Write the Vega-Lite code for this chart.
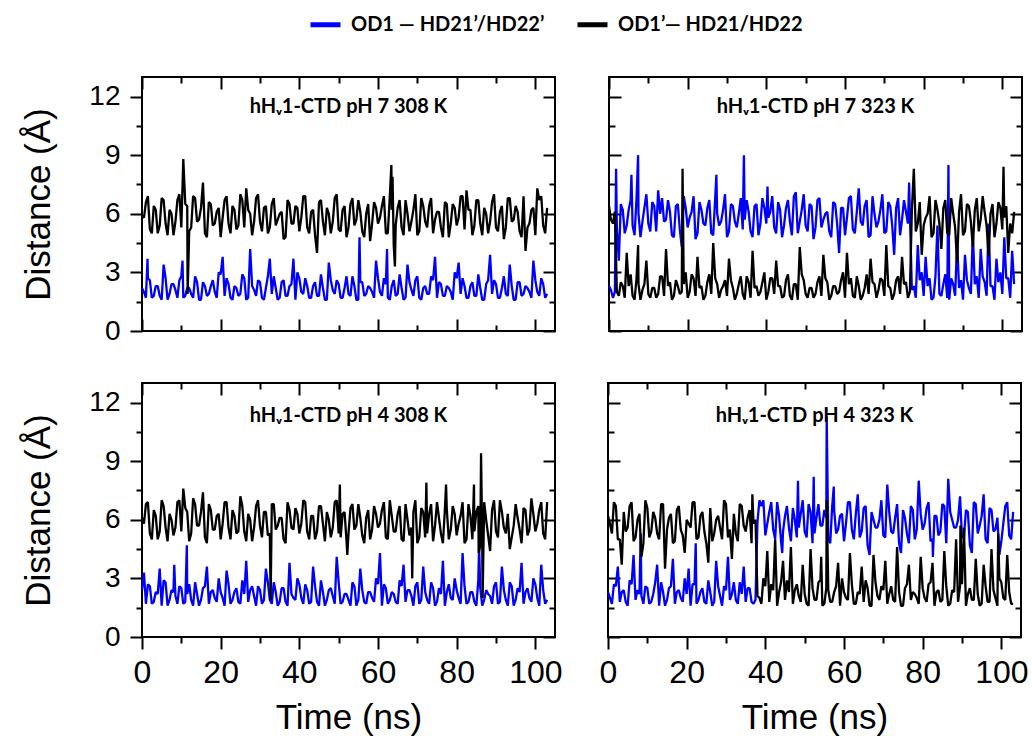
{
"$schema": "https://vega.github.io/schema/vega-lite/v6.json",
"background": "white",
"padding": {"left": 20, "top": 7, "right": 8, "bottom": 5},
"datasets": {
"a1k": [{"t":0,"v":5.9},{"t":0.5,"v":5.8},{"t":1,"v":6.6},{"t":1.5,"v":6.9},{"t":2,"v":5.2},{"t":2.5,"v":5.0},{"t":3,"v":6.4},{"t":3.5,"v":6.2},{"t":4,"v":5.0},{"t":4.5,"v":5.4},{"t":5,"v":6.8},{"t":5.5,"v":6.7},{"t":6,"v":5.5},{"t":6.5,"v":4.9},{"t":7,"v":6.2},{"t":7.5,"v":6.0},{"t":8,"v":4.9},{"t":8.5,"v":5.6},{"t":9,"v":6.7},{"t":9.5,"v":7.0},{"t":10,"v":5.3},{"t":10.5,"v":8.8},{"t":11,"v":6.5},{"t":11.5,"v":6.4},{"t":11.6,"v":1.9},{"t":12,"v":5.1},{"t":12.5,"v":5.3},{"t":13,"v":6.9},{"t":13.5,"v":6.8},{"t":14,"v":5.6},{"t":14.5,"v":5.7},{"t":15,"v":6.3},{"t":15.5,"v":7.6},{"t":16,"v":5.0},{"t":16.5,"v":4.8},{"t":17,"v":6.6},{"t":17.5,"v":6.5},{"t":18,"v":5.4},{"t":18.5,"v":5.5},{"t":19,"v":6.1},{"t":19.5,"v":6.3},{"t":20,"v":4.8},{"t":20.5,"v":5.8},{"t":21,"v":6.7},{"t":21.5,"v":6.9},{"t":22,"v":5.5},{"t":22.5,"v":5.0},{"t":23,"v":6.4},{"t":23.5,"v":6.2},{"t":24,"v":5.2},{"t":24.5,"v":5.4},{"t":25,"v":7.0},{"t":25.5,"v":6.7},{"t":26,"v":5.3},{"t":26.5,"v":7.3},{"t":27,"v":6.2},{"t":27.5,"v":6.0},{"t":28,"v":4.9},{"t":28.5,"v":5.6},{"t":29,"v":6.8},{"t":29.5,"v":7.0},{"t":30,"v":5.6},{"t":30.5,"v":5.1},{"t":31,"v":6.3},{"t":31.5,"v":6.4},{"t":32,"v":5.0},{"t":32.5,"v":5.3},{"t":33,"v":6.5},{"t":33.5,"v":6.8},{"t":34,"v":5.4},{"t":34.5,"v":5.7},{"t":35,"v":6.0},{"t":35.5,"v":6.1},{"t":36,"v":4.7},{"t":36.5,"v":4.8},{"t":37,"v":6.7},{"t":37.5,"v":6.5},{"t":38,"v":5.5},{"t":38.5,"v":5.5},{"t":39,"v":6.4},{"t":39.5,"v":6.3},{"t":40,"v":5.1},{"t":40.5,"v":5.8},{"t":41,"v":6.9},{"t":41.5,"v":6.9},{"t":42,"v":5.3},{"t":42.5,"v":5.0},{"t":43,"v":6.1},{"t":43.5,"v":6.2},{"t":44,"v":4.9},{"t":44.5,"v":4.0},{"t":45,"v":6.6},{"t":45.5,"v":6.7},{"t":46,"v":5.6},{"t":46.5,"v":4.9},{"t":47,"v":6.3},{"t":47.5,"v":6.0},{"t":48,"v":5.0},{"t":48.5,"v":5.6},{"t":49,"v":6.8},{"t":49.5,"v":7.0},{"t":50,"v":5.2},{"t":50.5,"v":5.1},{"t":51,"v":6.2},{"t":51.5,"v":6.4},{"t":52,"v":4.8},{"t":52.5,"v":5.3},{"t":53,"v":6.5},{"t":53.5,"v":6.8},{"t":54,"v":5.4},{"t":54.5,"v":5.7},{"t":55,"v":6.7},{"t":55.5,"v":6.1},{"t":56,"v":5.1},{"t":56.5,"v":4.8},{"t":57,"v":6.0},{"t":57.5,"v":6.5},{"t":58,"v":4.6},{"t":58.5,"v":5.5},{"t":59,"v":6.6},{"t":59.5,"v":6.3},{"t":60,"v":5.5},{"t":60.5,"v":5.8},{"t":61,"v":6.4},{"t":61.5,"v":6.9},{"t":62,"v":5.0},{"t":62.5,"v":5.0},{"t":63,"v":6.9},{"t":63.4,"v":8.5},{"t":63.5,"v":6.2},{"t":63.7,"v":7.9},{"t":64,"v":4.4},{"t":64.3,"v":3.3},{"t":64.5,"v":5.4},{"t":65,"v":6.3},{"t":65.5,"v":6.7},{"t":66,"v":5.3},{"t":66.5,"v":4.9},{"t":67,"v":6.7},{"t":67.5,"v":6.0},{"t":68,"v":5.1},{"t":68.5,"v":5.6},{"t":69,"v":6.2},{"t":69.5,"v":7.0},{"t":70,"v":4.9},{"t":70.5,"v":5.1},{"t":71,"v":6.8},{"t":71.5,"v":6.4},{"t":72,"v":5.6},{"t":72.5,"v":5.3},{"t":73,"v":6.4},{"t":73.5,"v":6.8},{"t":74,"v":5.0},{"t":74.5,"v":5.7},{"t":75,"v":6.1},{"t":75.5,"v":6.1},{"t":76,"v":5.3},{"t":76.5,"v":4.8},{"t":77,"v":6.6},{"t":77.5,"v":6.5},{"t":78,"v":4.8},{"t":78.5,"v":5.5},{"t":79,"v":6.5},{"t":79.5,"v":6.3},{"t":80,"v":5.4},{"t":80.5,"v":5.8},{"t":81,"v":6.9},{"t":81.5,"v":6.9},{"t":82,"v":5.2},{"t":82.5,"v":7.2},{"t":83,"v":6.2},{"t":83.5,"v":6.2},{"t":84,"v":4.9},{"t":84.5,"v":5.4},{"t":85,"v":6.7},{"t":85.5,"v":6.7},{"t":86,"v":5.5},{"t":86.5,"v":4.9},{"t":87,"v":6.3},{"t":87.5,"v":6.0},{"t":88,"v":5.0},{"t":88.5,"v":5.6},{"t":89,"v":6.6},{"t":89.5,"v":7.0},{"t":90,"v":5.3},{"t":90.5,"v":5.1},{"t":91,"v":6.1},{"t":91.5,"v":6.4},{"t":92,"v":4.7},{"t":92.5,"v":5.3},{"t":93,"v":6.8},{"t":93.5,"v":6.8},{"t":94,"v":5.6},{"t":94.5,"v":5.7},{"t":95,"v":6.4},{"t":95.5,"v":6.1},{"t":96,"v":5.1},{"t":96.5,"v":4.8},{"t":97,"v":6.9},{"t":97.5,"v":4.1},{"t":98,"v":5.3},{"t":98.5,"v":5.5},{"t":99,"v":6.2},{"t":99.5,"v":6.3},{"t":100,"v":4.9},{"t":100.5,"v":7.3},{"t":101,"v":6.7},{"t":101.5,"v":6.9},{"t":102,"v":5.4},{"t":102.5,"v":5.0},{"t":103,"v":6.3}],
"a1b": [{"t":0,"v":2.2},{"t":0.5,"v":2.0},{"t":1,"v":1.7},{"t":1.4,"v":3.7},{"t":1.5,"v":2.7},{"t":2,"v":2.6},{"t":2.5,"v":1.7},{"t":3,"v":1.8},{"t":3.5,"v":2.3},{"t":4,"v":2.3},{"t":4.5,"v":1.8},{"t":5,"v":1.6},{"t":5.5,"v":3.4},{"t":6,"v":2.7},{"t":6.5,"v":1.6},{"t":7,"v":1.9},{"t":7.5,"v":2.4},{"t":8,"v":2.4},{"t":8.5,"v":2.1},{"t":9,"v":1.7},{"t":9.5,"v":2.6},{"t":10,"v":2.8},{"t":10.3,"v":3.6},{"t":10.5,"v":1.7},{"t":11,"v":1.8},{"t":11.5,"v":2.2},{"t":12,"v":2.2},{"t":12.5,"v":1.9},{"t":13,"v":1.7},{"t":13.5,"v":2.8},{"t":14,"v":2.5},{"t":14.5,"v":1.6},{"t":15,"v":1.6},{"t":15.5,"v":2.5},{"t":16,"v":2.3},{"t":16.5,"v":1.8},{"t":17,"v":1.9},{"t":17.5,"v":2.3},{"t":18,"v":2.6},{"t":18.5,"v":2.0},{"t":19,"v":1.7},{"t":19.5,"v":3.0},{"t":20,"v":2.9},{"t":20.5,"v":3.8},{"t":21,"v":1.8},{"t":21.5,"v":2.7},{"t":22,"v":2.4},{"t":22.5,"v":1.7},{"t":23,"v":1.6},{"t":23.5,"v":2.3},{"t":24,"v":2.2},{"t":24.5,"v":1.8},{"t":25,"v":1.9},{"t":25.5,"v":2.9},{"t":26,"v":2.7},{"t":26.5,"v":1.6},{"t":27,"v":1.7},{"t":27.5,"v":4.2},{"t":28,"v":2.3},{"t":28.5,"v":2.1},{"t":29,"v":1.8},{"t":29.5,"v":2.6},{"t":30,"v":2.5},{"t":30.5,"v":1.7},{"t":31,"v":1.6},{"t":31.5,"v":2.2},{"t":32,"v":2.8},{"t":32.5,"v":3.7},{"t":33,"v":1.9},{"t":33.5,"v":2.8},{"t":34,"v":2.2},{"t":34.5,"v":1.6},{"t":35,"v":1.7},{"t":35.5,"v":2.5},{"t":36,"v":2.6},{"t":36.5,"v":1.8},{"t":37,"v":1.8},{"t":37.5,"v":2.3},{"t":38,"v":2.4},{"t":38.5,"v":3.7},{"t":39,"v":1.6},{"t":39.5,"v":3.0},{"t":40,"v":2.7},{"t":40.5,"v":2.0},{"t":41,"v":1.9},{"t":41.5,"v":2.7},{"t":42,"v":2.3},{"t":42.5,"v":1.7},{"t":43,"v":1.7},{"t":43.5,"v":2.3},{"t":44,"v":2.5},{"t":44.5,"v":1.8},{"t":45,"v":1.8},{"t":45.5,"v":2.9},{"t":46,"v":2.2},{"t":46.5,"v":1.6},{"t":47,"v":1.6},{"t":47.5,"v":3.5},{"t":48,"v":2.6},{"t":48.5,"v":2.1},{"t":49,"v":1.9},{"t":49.5,"v":2.6},{"t":50,"v":2.4},{"t":50.5,"v":1.7},{"t":51,"v":1.7},{"t":51.5,"v":2.2},{"t":52,"v":2.8},{"t":52.5,"v":1.9},{"t":53,"v":1.8},{"t":53.5,"v":2.8},{"t":54,"v":2.3},{"t":54.5,"v":1.6},{"t":55,"v":1.6},{"t":55.3,"v":4.8},{"t":55.5,"v":2.5},{"t":56,"v":2.5},{"t":56.5,"v":1.8},{"t":57,"v":1.9},{"t":57.5,"v":2.3},{"t":58,"v":2.2},{"t":58.5,"v":2.0},{"t":59,"v":1.7},{"t":59.5,"v":3.6},{"t":60,"v":2.7},{"t":60.5,"v":2.0},{"t":61,"v":1.8},{"t":61.5,"v":2.7},{"t":62,"v":2.4},{"t":62.3,"v":4.2},{"t":62.5,"v":1.7},{"t":63,"v":1.6},{"t":63.5,"v":2.3},{"t":64,"v":2.6},{"t":64.5,"v":1.8},{"t":65,"v":1.9},{"t":65.5,"v":2.9},{"t":66,"v":2.2},{"t":66.5,"v":1.6},{"t":67,"v":1.7},{"t":67.5,"v":3.4},{"t":68,"v":2.5},{"t":68.5,"v":2.1},{"t":69,"v":1.8},{"t":69.5,"v":2.6},{"t":70,"v":2.8},{"t":70.5,"v":1.7},{"t":71,"v":1.6},{"t":71.5,"v":2.2},{"t":72,"v":2.3},{"t":72.5,"v":1.9},{"t":73,"v":1.9},{"t":73.5,"v":2.8},{"t":74,"v":2.6},{"t":74.5,"v":3.8},{"t":75,"v":1.7},{"t":75.5,"v":2.5},{"t":76,"v":2.4},{"t":76.5,"v":1.8},{"t":77,"v":1.8},{"t":77.5,"v":2.3},{"t":78,"v":2.2},{"t":78.5,"v":2.0},{"t":79,"v":1.6},{"t":79.5,"v":3.0},{"t":80,"v":2.7},{"t":80.5,"v":3.5},{"t":81,"v":1.9},{"t":81.5,"v":2.7},{"t":82,"v":2.3},{"t":82.5,"v":1.7},{"t":83,"v":1.7},{"t":83.5,"v":2.3},{"t":84,"v":2.5},{"t":84.5,"v":1.8},{"t":85,"v":1.8},{"t":85.5,"v":2.9},{"t":86,"v":2.2},{"t":86.5,"v":1.6},{"t":87,"v":1.6},{"t":87.5,"v":2.4},{"t":88,"v":2.6},{"t":88.5,"v":3.9},{"t":89,"v":1.9},{"t":89.5,"v":2.6},{"t":90,"v":2.4},{"t":90.5,"v":1.7},{"t":91,"v":1.7},{"t":91.5,"v":2.2},{"t":92,"v":2.8},{"t":92.5,"v":1.9},{"t":93,"v":1.8},{"t":93.5,"v":3.4},{"t":94,"v":2.3},{"t":94.5,"v":1.6},{"t":95,"v":1.6},{"t":95.5,"v":2.5},{"t":96,"v":2.5},{"t":96.5,"v":1.8},{"t":97,"v":1.9},{"t":97.5,"v":2.3},{"t":98,"v":2.2},{"t":98.5,"v":2.0},{"t":99,"v":1.7},{"t":99.5,"v":3.6},{"t":100,"v":2.6},{"t":100.5,"v":2.0},{"t":101,"v":1.8},{"t":101.5,"v":2.7},{"t":102,"v":2.4},{"t":102.5,"v":1.7},{"t":103,"v":1.9}],
"a2b": [{"t":0,"v":2.3},{"t":0.5,"v":2.1},{"t":1,"v":1.7},{"t":1.5,"v":2.0},{"t":1.8,"v":8.3},{"t":2,"v":5.3},{"t":2.5,"v":3.6},{"t":3,"v":6.5},{"t":3.5,"v":6.2},{"t":4,"v":5.0},{"t":4.5,"v":5.4},{"t":5,"v":6.2},{"t":5.5,"v":6.7},{"t":5.7,"v":8.0},{"t":6,"v":5.4},{"t":6.5,"v":4.9},{"t":7,"v":6.8},{"t":7.4,"v":9.0},{"t":7.5,"v":6.0},{"t":8,"v":4.8},{"t":8.5,"v":5.6},{"t":9,"v":6.3},{"t":9.5,"v":7.0},{"t":10,"v":5.5},{"t":10.5,"v":5.1},{"t":11,"v":6.6},{"t":11.5,"v":6.4},{"t":12,"v":5.1},{"t":12.5,"v":7.2},{"t":13,"v":6.0},{"t":13.5,"v":6.8},{"t":14,"v":5.6},{"t":14.5,"v":5.7},{"t":15,"v":6.7},{"t":15.5,"v":6.1},{"t":16,"v":4.9},{"t":16.5,"v":4.8},{"t":17,"v":6.4},{"t":17.5,"v":6.5},{"t":18,"v":5.2},{"t":18.5,"v":4.3},{"t":19,"v":6.9},{"t":19.5,"v":6.3},{"t":20,"v":5.3},{"t":20.5,"v":5.8},{"t":21,"v":6.1},{"t":21.5,"v":6.9},{"t":22,"v":4.7},{"t":22.5,"v":5.0},{"t":23,"v":6.6},{"t":23.5,"v":6.2},{"t":24,"v":5.5},{"t":24.5,"v":5.4},{"t":25,"v":6.3},{"t":25.5,"v":6.7},{"t":26,"v":5.0},{"t":26.5,"v":4.9},{"t":27,"v":6.8},{"t":27.3,"v":8.0},{"t":27.5,"v":6.0},{"t":28,"v":5.4},{"t":28.5,"v":5.6},{"t":29,"v":6.2},{"t":29.5,"v":7.0},{"t":30,"v":4.8},{"t":30.5,"v":5.1},{"t":31,"v":6.5},{"t":31.5,"v":6.4},{"t":32,"v":5.6},{"t":32.5,"v":5.3},{"t":33,"v":6.0},{"t":33.5,"v":6.8},{"t":34,"v":5.2},{"t":34.3,"v":9.0},{"t":34.5,"v":5.7},{"t":35,"v":6.7},{"t":35.5,"v":6.1},{"t":36,"v":5.1},{"t":36.5,"v":4.8},{"t":37,"v":6.4},{"t":37.5,"v":6.5},{"t":38,"v":4.9},{"t":38.5,"v":5.5},{"t":39,"v":6.8},{"t":39.5,"v":6.3},{"t":40,"v":5.5},{"t":40.3,"v":7.4},{"t":40.5,"v":5.8},{"t":41,"v":6.1},{"t":41.5,"v":6.9},{"t":42,"v":5.3},{"t":42.5,"v":5.0},{"t":43,"v":6.6},{"t":43.5,"v":6.2},{"t":44,"v":4.8},{"t":44.5,"v":5.4},{"t":45,"v":6.3},{"t":45.5,"v":6.7},{"t":46,"v":5.6},{"t":46.5,"v":4.9},{"t":47,"v":6.9},{"t":47.5,"v":7.1},{"t":48,"v":5.0},{"t":48.5,"v":5.6},{"t":49,"v":6.2},{"t":49.5,"v":7.0},{"t":50,"v":5.4},{"t":50.5,"v":5.1},{"t":51,"v":6.5},{"t":51.5,"v":6.4},{"t":52,"v":4.7},{"t":52.5,"v":5.3},{"t":53,"v":6.7},{"t":53.5,"v":6.8},{"t":54,"v":5.3},{"t":54.5,"v":5.7},{"t":55,"v":6.0},{"t":55.5,"v":6.1},{"t":56,"v":5.1},{"t":56.5,"v":4.8},{"t":57,"v":6.6},{"t":57.5,"v":6.5},{"t":58,"v":5.5},{"t":58.5,"v":4.0},{"t":59,"v":6.3},{"t":59.5,"v":6.3},{"t":60,"v":4.9},{"t":60.5,"v":5.8},{"t":61,"v":6.8},{"t":61.5,"v":6.9},{"t":62,"v":5.2},{"t":62.5,"v":5.0},{"t":63,"v":6.1},{"t":63.5,"v":7.3},{"t":64,"v":5.6},{"t":64.5,"v":5.4},{"t":65,"v":6.4},{"t":65.5,"v":6.7},{"t":66,"v":4.8},{"t":66.5,"v":4.9},{"t":67,"v":6.9},{"t":67.5,"v":6.0},{"t":68,"v":5.3},{"t":68.5,"v":5.6},{"t":69,"v":6.2},{"t":69.5,"v":7.0},{"t":70,"v":5.0},{"t":70.5,"v":5.1},{"t":71,"v":6.6},{"t":71.5,"v":6.4},{"t":72,"v":5.4},{"t":72.5,"v":3.9},{"t":73,"v":6.3},{"t":73.5,"v":6.8},{"t":74,"v":4.9},{"t":74.5,"v":5.7},{"t":75,"v":6.7},{"t":75.5,"v":6.1},{"t":76,"v":5.5},{"t":76.3,"v":7.6},{"t":76.5,"v":6.0},{"t":77,"v":2.1},{"t":77.5,"v":2.3},{"t":78,"v":1.7},{"t":78.5,"v":4.4},{"t":79,"v":2.6},{"t":79.5,"v":3.0},{"t":80,"v":1.8},{"t":80.5,"v":3.8},{"t":81,"v":2.3},{"t":81.5,"v":2.7},{"t":82,"v":1.6},{"t":82.5,"v":1.7},{"t":83,"v":2.8},{"t":83.5,"v":5.4},{"t":84,"v":1.9},{"t":84.5,"v":1.8},{"t":85,"v":2.4},{"t":85.5,"v":2.9},{"t":86,"v":1.7},{"t":86.3,"v":8.5},{"t":86.5,"v":1.6},{"t":87,"v":2.7},{"t":87.5,"v":2.4},{"t":88,"v":1.8},{"t":88.5,"v":4.6},{"t":89,"v":2.2},{"t":89.5,"v":2.6},{"t":90,"v":1.6},{"t":90.5,"v":3.9},{"t":91,"v":2.6},{"t":91.5,"v":2.2},{"t":92,"v":1.9},{"t":92.5,"v":5.0},{"t":93,"v":2.4},{"t":93.5,"v":2.8},{"t":94,"v":1.7},{"t":94.5,"v":4.2},{"t":95,"v":2.8},{"t":95.5,"v":2.5},{"t":96,"v":1.8},{"t":96.5,"v":5.5},{"t":97,"v":2.3},{"t":97.5,"v":2.3},{"t":98,"v":1.6},{"t":98.5,"v":3.7},{"t":99,"v":2.5},{"t":99.5,"v":3.0},{"t":100,"v":1.9},{"t":100.5,"v":4.8},{"t":101,"v":2.7},{"t":101.5,"v":2.7},{"t":102,"v":1.7},{"t":102.5,"v":4.1},{"t":103,"v":2.4}],
"a2k": [{"t":0,"v":6.4},{"t":0.5,"v":5.7},{"t":1,"v":5.5},{"t":1.5,"v":6.1},{"t":2,"v":2.0},{"t":2.5,"v":1.8},{"t":3,"v":2.5},{"t":3.5,"v":2.3},{"t":4,"v":1.7},{"t":4.5,"v":4.0},{"t":5,"v":2.3},{"t":5.5,"v":2.9},{"t":6,"v":1.8},{"t":6.5,"v":1.6},{"t":7,"v":2.7},{"t":7.4,"v":4.4},{"t":7.5,"v":2.4},{"t":8,"v":1.6},{"t":8.5,"v":2.1},{"t":9,"v":2.4},{"t":9.5,"v":3.6},{"t":10,"v":1.9},{"t":10.5,"v":1.7},{"t":11,"v":2.2},{"t":11.5,"v":2.2},{"t":12,"v":1.7},{"t":12.5,"v":1.9},{"t":13,"v":2.8},{"t":13.5,"v":2.8},{"t":14,"v":1.8},{"t":14.5,"v":4.2},{"t":15,"v":2.3},{"t":15.5,"v":2.5},{"t":16,"v":1.6},{"t":16.5,"v":1.8},{"t":17,"v":2.6},{"t":17.5,"v":2.3},{"t":18,"v":1.9},{"t":18.5,"v":2.0},{"t":18.7,"v":8.3},{"t":19,"v":2.4},{"t":19.5,"v":3.0},{"t":20,"v":1.7},{"t":20.5,"v":2.0},{"t":21,"v":2.9},{"t":21.5,"v":2.7},{"t":22,"v":1.8},{"t":22.5,"v":3.8},{"t":23,"v":2.2},{"t":23.5,"v":2.3},{"t":24,"v":1.6},{"t":24.5,"v":1.8},{"t":25,"v":2.5},{"t":25.5,"v":2.9},{"t":26,"v":1.9},{"t":26.5,"v":4.5},{"t":27,"v":2.7},{"t":27.5,"v":2.4},{"t":28,"v":1.7},{"t":28.5,"v":2.1},{"t":29,"v":2.3},{"t":29.5,"v":2.6},{"t":30,"v":1.8},{"t":30.5,"v":3.7},{"t":31,"v":2.6},{"t":31.5,"v":2.2},{"t":32,"v":1.6},{"t":32.5,"v":1.9},{"t":33,"v":2.4},{"t":33.5,"v":2.8},{"t":34,"v":1.9},{"t":34.5,"v":1.6},{"t":35,"v":2.8},{"t":35.5,"v":2.5},{"t":36,"v":1.7},{"t":36.5,"v":4.1},{"t":37,"v":2.2},{"t":37.5,"v":2.3},{"t":38,"v":1.8},{"t":38.5,"v":2.0},{"t":39,"v":2.5},{"t":39.5,"v":3.0},{"t":40,"v":1.6},{"t":40.5,"v":2.0},{"t":41,"v":2.7},{"t":41.5,"v":2.7},{"t":42,"v":1.9},{"t":42.5,"v":3.6},{"t":43,"v":2.3},{"t":43.5,"v":2.3},{"t":44,"v":1.7},{"t":44.5,"v":1.8},{"t":45,"v":2.6},{"t":45.5,"v":2.9},{"t":46,"v":1.8},{"t":46.5,"v":1.6},{"t":47,"v":2.4},{"t":47.5,"v":2.4},{"t":48,"v":1.6},{"t":48.5,"v":4.3},{"t":49,"v":2.9},{"t":49.5,"v":2.6},{"t":50,"v":1.9},{"t":50.5,"v":1.7},{"t":51,"v":2.2},{"t":51.5,"v":2.2},{"t":52,"v":1.7},{"t":52.5,"v":1.9},{"t":53,"v":2.5},{"t":53.5,"v":2.8},{"t":54,"v":1.8},{"t":54.5,"v":3.9},{"t":55,"v":2.7},{"t":55.5,"v":2.5},{"t":56,"v":1.6},{"t":56.5,"v":1.8},{"t":57,"v":2.3},{"t":57.5,"v":2.3},{"t":58,"v":1.9},{"t":58.5,"v":2.0},{"t":59,"v":2.6},{"t":59.5,"v":3.0},{"t":60,"v":1.7},{"t":60.5,"v":4.0},{"t":61,"v":2.4},{"t":61.5,"v":2.7},{"t":62,"v":1.8},{"t":62.5,"v":1.7},{"t":63,"v":2.8},{"t":63.5,"v":2.3},{"t":64,"v":1.6},{"t":64.5,"v":1.8},{"t":65,"v":2.2},{"t":65.5,"v":2.9},{"t":66,"v":1.9},{"t":66.5,"v":3.7},{"t":67,"v":2.5},{"t":67.5,"v":2.4},{"t":68,"v":1.7},{"t":68.5,"v":2.1},{"t":69,"v":2.7},{"t":69.5,"v":2.6},{"t":70,"v":1.8},{"t":70.5,"v":4.4},{"t":71,"v":2.3},{"t":71.5,"v":2.2},{"t":72,"v":1.6},{"t":72.5,"v":1.9},{"t":73,"v":2.6},{"t":73.5,"v":2.8},{"t":74,"v":1.9},{"t":74.5,"v":3.8},{"t":75,"v":2.4},{"t":75.5,"v":2.5},{"t":76,"v":1.7},{"t":76.5,"v":2.0},{"t":77,"v":6.2},{"t":77.5,"v":8.3},{"t":78,"v":5.1},{"t":78.5,"v":5.5},{"t":79,"v":6.6},{"t":79.5,"v":3.9},{"t":80,"v":5.4},{"t":80.5,"v":5.8},{"t":81,"v":6.0},{"t":81.5,"v":6.9},{"t":82,"v":4.8},{"t":82.5,"v":5.0},{"t":83,"v":6.7},{"t":83.5,"v":6.2},{"t":84,"v":5.5},{"t":84.5,"v":4.2},{"t":85,"v":6.3},{"t":85.5,"v":6.7},{"t":86,"v":5.0},{"t":86.5,"v":4.9},{"t":87,"v":6.8},{"t":87.5,"v":6.0},{"t":88,"v":5.3},{"t":88.5,"v":3.5},{"t":89,"v":6.1},{"t":89.5,"v":7.0},{"t":90,"v":4.9},{"t":90.5,"v":5.1},{"t":91,"v":6.5},{"t":91.5,"v":6.4},{"t":92,"v":5.6},{"t":92.5,"v":4.3},{"t":93,"v":6.2},{"t":93.5,"v":6.8},{"t":94,"v":5.1},{"t":94.5,"v":5.7},{"t":95,"v":6.9},{"t":95.5,"v":6.1},{"t":96,"v":5.4},{"t":96.5,"v":3.8},{"t":97,"v":6.0},{"t":97.5,"v":6.5},{"t":98,"v":4.8},{"t":98.5,"v":5.5},{"t":99,"v":6.6},{"t":99.5,"v":6.3},{"t":100,"v":5.2},{"t":100.3,"v":8.4},{"t":100.5,"v":5.8},{"t":101,"v":6.4},{"t":101.5,"v":4.0},{"t":102,"v":5.5},{"t":102.5,"v":5.0},{"t":103,"v":6.1}],
"b1k": [{"t":0,"v":6.1},{"t":0.5,"v":5.8},{"t":1,"v":6.8},{"t":1.5,"v":6.9},{"t":2,"v":5.3},{"t":2.5,"v":5.0},{"t":3,"v":6.5},{"t":3.5,"v":6.2},{"t":4,"v":5.0},{"t":4.5,"v":5.4},{"t":5,"v":7.0},{"t":5.5,"v":6.7},{"t":6,"v":5.6},{"t":6.5,"v":4.9},{"t":7,"v":6.3},{"t":7.5,"v":6.0},{"t":8,"v":5.2},{"t":8.5,"v":5.6},{"t":9,"v":6.9},{"t":9.5,"v":7.0},{"t":10,"v":5.4},{"t":10.5,"v":7.6},{"t":11,"v":6.6},{"t":11.5,"v":6.4},{"t":12,"v":4.9},{"t":12.5,"v":5.3},{"t":13,"v":7.1},{"t":13.5,"v":6.8},{"t":14,"v":5.7},{"t":14.5,"v":5.7},{"t":15,"v":6.4},{"t":15.5,"v":7.4},{"t":16,"v":5.1},{"t":16.5,"v":4.8},{"t":17,"v":6.8},{"t":17.5,"v":6.5},{"t":18,"v":5.5},{"t":18.5,"v":5.5},{"t":19,"v":6.2},{"t":19.5,"v":6.3},{"t":20,"v":5.0},{"t":20.5,"v":5.8},{"t":21,"v":6.9},{"t":21.5,"v":6.9},{"t":22,"v":5.6},{"t":22.5,"v":5.0},{"t":23,"v":6.5},{"t":23.5,"v":6.2},{"t":24,"v":5.3},{"t":24.5,"v":5.4},{"t":25,"v":7.2},{"t":25.5,"v":6.7},{"t":26,"v":5.4},{"t":26.5,"v":4.9},{"t":27,"v":6.3},{"t":27.5,"v":6.0},{"t":28,"v":4.9},{"t":28.5,"v":5.6},{"t":29,"v":6.7},{"t":29.5,"v":7.0},{"t":30,"v":5.7},{"t":30.5,"v":5.1},{"t":31,"v":6.4},{"t":31.5,"v":6.4},{"t":32,"v":5.2},{"t":32.5,"v":5.3},{"t":32.7,"v":1.9},{"t":33,"v":6.8},{"t":33.5,"v":6.8},{"t":34,"v":5.5},{"t":34.5,"v":5.7},{"t":35,"v":6.1},{"t":35.5,"v":6.1},{"t":36,"v":5.0},{"t":36.5,"v":4.8},{"t":37,"v":6.9},{"t":37.5,"v":6.5},{"t":38,"v":5.6},{"t":38.5,"v":5.5},{"t":39,"v":6.6},{"t":39.5,"v":6.3},{"t":40,"v":5.3},{"t":40.5,"v":5.8},{"t":41,"v":7.0},{"t":41.5,"v":6.9},{"t":42,"v":5.4},{"t":42.5,"v":5.0},{"t":43,"v":6.2},{"t":43.5,"v":6.2},{"t":44,"v":5.0},{"t":44.5,"v":5.4},{"t":45,"v":6.7},{"t":45.5,"v":6.7},{"t":46,"v":5.8},{"t":46.5,"v":4.9},{"t":47,"v":6.4},{"t":47.5,"v":6.0},{"t":48,"v":5.1},{"t":48.5,"v":5.6},{"t":49,"v":6.9},{"t":49.5,"v":7.0},{"t":50,"v":5.3},{"t":50.3,"v":7.8},{"t":50.5,"v":5.1},{"t":51,"v":6.3},{"t":51.5,"v":6.4},{"t":52,"v":4.9},{"t":52.2,"v":4.2},{"t":52.5,"v":5.3},{"t":53,"v":6.6},{"t":53.5,"v":6.8},{"t":54,"v":5.5},{"t":54.5,"v":5.7},{"t":55,"v":6.8},{"t":55.5,"v":6.1},{"t":56,"v":5.2},{"t":56.5,"v":4.8},{"t":57,"v":6.1},{"t":57.5,"v":6.5},{"t":58,"v":5.0},{"t":58.5,"v":5.5},{"t":59,"v":6.7},{"t":59.5,"v":6.3},{"t":60,"v":5.6},{"t":60.5,"v":5.8},{"t":61,"v":6.5},{"t":61.5,"v":6.9},{"t":62,"v":5.1},{"t":62.5,"v":5.0},{"t":63,"v":7.0},{"t":63.5,"v":6.2},{"t":64,"v":5.4},{"t":64.5,"v":5.4},{"t":65,"v":6.3},{"t":65.5,"v":6.7},{"t":66,"v":5.0},{"t":66.5,"v":4.9},{"t":67,"v":6.8},{"t":67.5,"v":6.0},{"t":68,"v":5.2},{"t":68.5,"v":5.6},{"t":68.7,"v":3.0},{"t":69,"v":6.4},{"t":69.5,"v":7.0},{"t":70,"v":4.8},{"t":70.5,"v":5.1},{"t":71,"v":6.6},{"t":71.5,"v":6.4},{"t":72,"v":5.1},{"t":72.3,"v":7.9},{"t":72.5,"v":5.3},{"t":73,"v":6.3},{"t":73.5,"v":6.8},{"t":74,"v":4.9},{"t":74.5,"v":5.7},{"t":75,"v":6.9},{"t":75.5,"v":6.1},{"t":76,"v":5.3},{"t":76.5,"v":4.8},{"t":77,"v":6.5},{"t":77.3,"v":7.8},{"t":77.5,"v":6.5},{"t":78,"v":5.0},{"t":78.5,"v":5.5},{"t":79,"v":6.7},{"t":79.5,"v":6.3},{"t":80,"v":5.2},{"t":80.5,"v":5.8},{"t":81,"v":6.2},{"t":81.5,"v":6.9},{"t":82,"v":4.8},{"t":82.5,"v":5.0},{"t":83,"v":6.8},{"t":83.5,"v":6.2},{"t":84,"v":5.0},{"t":84.4,"v":7.8},{"t":84.5,"v":5.4},{"t":85,"v":6.4},{"t":85.5,"v":6.7},{"t":85.6,"v":4.3},{"t":86,"v":4.7},{"t":86.2,"v":9.4},{"t":86.5,"v":4.9},{"t":86.6,"v":2.0},{"t":87,"v":6.9},{"t":87.5,"v":6.0},{"t":88,"v":5.2},{"t":88.5,"v":4.4},{"t":89,"v":6.5},{"t":89.5,"v":7.0},{"t":90,"v":5.4},{"t":90.5,"v":5.1},{"t":91,"v":7.0},{"t":91.5,"v":6.4},{"t":92,"v":5.6},{"t":92.5,"v":5.3},{"t":93,"v":6.3},{"t":93.5,"v":4.5},{"t":94,"v":5.1},{"t":94.5,"v":5.7},{"t":95,"v":6.8},{"t":95.5,"v":6.1},{"t":96,"v":5.5},{"t":96.5,"v":4.8},{"t":97,"v":6.6},{"t":97.5,"v":6.5},{"t":98,"v":5.2},{"t":98.5,"v":5.5},{"t":99,"v":7.1},{"t":99.5,"v":6.3},{"t":100,"v":5.4},{"t":100.5,"v":5.8},{"t":101,"v":6.5},{"t":101.5,"v":6.9},{"t":102,"v":5.3},{"t":102.5,"v":5.0},{"t":103,"v":6.9}],
"b1b": [{"t":0,"v":2.4},{"t":0.5,"v":3.3},{"t":1,"v":1.7},{"t":1.5,"v":2.7},{"t":2,"v":2.6},{"t":2.5,"v":1.7},{"t":3,"v":1.8},{"t":3.5,"v":2.3},{"t":4,"v":2.2},{"t":4.5,"v":3.5},{"t":5,"v":1.6},{"t":5.5,"v":2.9},{"t":6,"v":2.8},{"t":6.5,"v":1.6},{"t":7,"v":1.9},{"t":7.5,"v":2.4},{"t":8,"v":2.3},{"t":8.2,"v":3.7},{"t":8.5,"v":2.1},{"t":9,"v":1.7},{"t":9.5,"v":2.6},{"t":10,"v":2.5},{"t":10.5,"v":1.7},{"t":11,"v":1.8},{"t":11.4,"v":4.7},{"t":11.5,"v":2.2},{"t":12,"v":2.7},{"t":12.5,"v":1.9},{"t":13,"v":1.6},{"t":13.5,"v":2.8},{"t":14,"v":2.2},{"t":14.5,"v":1.6},{"t":15,"v":1.9},{"t":15.5,"v":2.5},{"t":16,"v":2.6},{"t":16.5,"v":3.6},{"t":17,"v":1.7},{"t":17.5,"v":2.3},{"t":18,"v":2.4},{"t":18.5,"v":2.0},{"t":19,"v":1.8},{"t":19.5,"v":3.0},{"t":20,"v":2.3},{"t":20.5,"v":2.0},{"t":21,"v":1.6},{"t":21.5,"v":3.4},{"t":22,"v":2.7},{"t":22.5,"v":1.7},{"t":23,"v":1.9},{"t":23.5,"v":2.3},{"t":24,"v":2.5},{"t":24.5,"v":1.8},{"t":25,"v":1.7},{"t":25.5,"v":2.9},{"t":26,"v":2.2},{"t":26.5,"v":3.9},{"t":27,"v":1.8},{"t":27.5,"v":2.4},{"t":28,"v":2.6},{"t":28.5,"v":2.1},{"t":29,"v":1.6},{"t":29.5,"v":2.6},{"t":30,"v":2.4},{"t":30.5,"v":1.7},{"t":31,"v":1.9},{"t":31.5,"v":3.5},{"t":32,"v":2.8},{"t":32.5,"v":1.9},{"t":33,"v":1.7},{"t":33.5,"v":2.8},{"t":34,"v":2.3},{"t":34.5,"v":1.6},{"t":35,"v":1.8},{"t":35.5,"v":2.5},{"t":36,"v":2.5},{"t":36.5,"v":1.8},{"t":37,"v":1.6},{"t":37.5,"v":3.8},{"t":38,"v":2.2},{"t":38.5,"v":2.0},{"t":39,"v":1.9},{"t":39.5,"v":3.0},{"t":40,"v":2.7},{"t":40.5,"v":2.0},{"t":41,"v":1.7},{"t":41.5,"v":2.7},{"t":42,"v":2.4},{"t":42.5,"v":1.7},{"t":43,"v":1.8},{"t":43.5,"v":3.6},{"t":44,"v":2.6},{"t":44.5,"v":1.8},{"t":45,"v":1.6},{"t":45.5,"v":2.9},{"t":46,"v":2.3},{"t":46.5,"v":1.6},{"t":47,"v":1.9},{"t":47.5,"v":2.4},{"t":48,"v":2.5},{"t":48.5,"v":2.1},{"t":49,"v":1.7},{"t":49.5,"v":4.1},{"t":50,"v":2.8},{"t":50.5,"v":1.7},{"t":51,"v":1.8},{"t":51.5,"v":2.2},{"t":52,"v":2.2},{"t":52.5,"v":1.9},{"t":53,"v":1.6},{"t":53.5,"v":2.8},{"t":54,"v":2.6},{"t":54.5,"v":1.6},{"t":55,"v":1.9},{"t":55.5,"v":3.5},{"t":56,"v":2.4},{"t":56.5,"v":1.8},{"t":57,"v":1.7},{"t":57.5,"v":2.3},{"t":58,"v":2.3},{"t":58.5,"v":2.0},{"t":59,"v":1.8},{"t":59.5,"v":3.0},{"t":60,"v":2.7},{"t":60.5,"v":4.3},{"t":61,"v":1.6},{"t":61.5,"v":2.7},{"t":62,"v":2.5},{"t":62.5,"v":1.7},{"t":63,"v":1.9},{"t":63.5,"v":2.3},{"t":64,"v":2.2},{"t":64.5,"v":1.8},{"t":65,"v":1.7},{"t":65.5,"v":2.9},{"t":66,"v":2.6},{"t":66.5,"v":3.7},{"t":67,"v":1.8},{"t":67.5,"v":2.4},{"t":68,"v":2.4},{"t":68.5,"v":2.1},{"t":69,"v":1.6},{"t":69.5,"v":2.6},{"t":70,"v":2.8},{"t":70.5,"v":1.7},{"t":71,"v":1.9},{"t":71.5,"v":3.6},{"t":72,"v":2.3},{"t":72.5,"v":1.9},{"t":73,"v":1.7},{"t":73.5,"v":2.8},{"t":74,"v":2.5},{"t":74.5,"v":1.6},{"t":75,"v":1.8},{"t":75.5,"v":2.5},{"t":76,"v":2.2},{"t":76.5,"v":3.9},{"t":77,"v":1.6},{"t":77.5,"v":2.3},{"t":78,"v":2.7},{"t":78.5,"v":2.0},{"t":79,"v":1.9},{"t":79.5,"v":3.0},{"t":80,"v":2.4},{"t":80.5,"v":2.0},{"t":81,"v":1.7},{"t":81.5,"v":4.3},{"t":82,"v":2.6},{"t":82.5,"v":1.7},{"t":83,"v":1.8},{"t":83.5,"v":2.3},{"t":84,"v":2.3},{"t":84.5,"v":1.8},{"t":85,"v":1.6},{"t":85.5,"v":2.9},{"t":85.7,"v":4.6},{"t":86,"v":2.5},{"t":86.5,"v":1.6},{"t":87,"v":1.9},{"t":87.5,"v":2.4},{"t":88,"v":2.2},{"t":88.5,"v":2.1},{"t":89,"v":1.7},{"t":89.5,"v":2.6},{"t":90,"v":2.8},{"t":90.5,"v":1.7},{"t":91,"v":1.8},{"t":91.5,"v":3.6},{"t":92,"v":2.4},{"t":92.5,"v":1.9},{"t":93,"v":1.6},{"t":93.5,"v":2.8},{"t":94,"v":2.6},{"t":94.5,"v":1.6},{"t":95,"v":1.9},{"t":95.5,"v":2.5},{"t":96,"v":2.3},{"t":96.5,"v":3.8},{"t":97,"v":1.7},{"t":97.5,"v":2.3},{"t":98,"v":2.5},{"t":98.5,"v":2.0},{"t":99,"v":1.8},{"t":99.5,"v":3.0},{"t":100,"v":2.7},{"t":100.5,"v":2.0},{"t":101,"v":1.6},{"t":101.5,"v":3.7},{"t":102,"v":2.4},{"t":102.5,"v":1.7},{"t":103,"v":1.9}],
"b2k": [{"t":0,"v":6.2},{"t":0.5,"v":5.8},{"t":1,"v":5.3},{"t":1.5,"v":6.9},{"t":2,"v":6.7},{"t":2.5,"v":5.0},{"t":3,"v":5.0},{"t":3.5,"v":3.7},{"t":4,"v":6.4},{"t":4.5,"v":5.4},{"t":5,"v":5.6},{"t":5.5,"v":6.7},{"t":6,"v":6.9},{"t":6.5,"v":4.9},{"t":7,"v":5.1},{"t":7.5,"v":6.0},{"t":8,"v":6.3},{"t":8.5,"v":4.1},{"t":9,"v":4.8},{"t":9.5,"v":7.0},{"t":10,"v":6.6},{"t":10.5,"v":5.1},{"t":11,"v":5.4},{"t":11.5,"v":6.4},{"t":12,"v":6.1},{"t":12.5,"v":5.3},{"t":13,"v":5.0},{"t":13.5,"v":6.8},{"t":14,"v":6.8},{"t":14.5,"v":3.5},{"t":15,"v":5.5},{"t":15.5,"v":6.1},{"t":16,"v":6.3},{"t":16.5,"v":4.8},{"t":17,"v":4.9},{"t":17.5,"v":6.5},{"t":18,"v":6.7},{"t":18.5,"v":5.5},{"t":19,"v":5.2},{"t":19.5,"v":4.3},{"t":20,"v":6.0},{"t":20.5,"v":5.8},{"t":21,"v":5.6},{"t":21.5,"v":6.9},{"t":22,"v":6.9},{"t":22.5,"v":5.0},{"t":23,"v":5.1},{"t":23.5,"v":6.2},{"t":24,"v":6.4},{"t":24.5,"v":5.4},{"t":25,"v":4.8},{"t":25.5,"v":3.8},{"t":26,"v":6.6},{"t":26.5,"v":4.9},{"t":27,"v":5.3},{"t":27.5,"v":6.0},{"t":28,"v":6.2},{"t":28.5,"v":5.6},{"t":29,"v":5.0},{"t":29.5,"v":7.0},{"t":30,"v":6.8},{"t":30.5,"v":5.1},{"t":31,"v":5.5},{"t":31.5,"v":4.0},{"t":32,"v":6.3},{"t":32.5,"v":5.3},{"t":33,"v":4.9},{"t":33.5,"v":6.8},{"t":34,"v":6.7},{"t":34.5,"v":5.7},{"t":35,"v":5.4},{"t":35.5,"v":6.1},{"t":36,"v":6.5},{"t":36.5,"v":4.8},{"t":36.7,"v":7.3},{"t":37,"v":5.8},{"t":37.5,"v":6.0},{"t":38,"v":2.1},{"t":38.5,"v":2.0},{"t":39,"v":1.7},{"t":39.5,"v":3.0},{"t":40,"v":2.6},{"t":40.5,"v":4.4},{"t":41,"v":1.8},{"t":41.5,"v":2.7},{"t":42,"v":2.4},{"t":42.5,"v":5.0},{"t":43,"v":1.6},{"t":43.5,"v":2.3},{"t":44,"v":2.8},{"t":44.5,"v":3.9},{"t":45,"v":1.9},{"t":45.5,"v":2.9},{"t":46,"v":2.3},{"t":46.5,"v":4.6},{"t":47,"v":1.7},{"t":47.5,"v":2.4},{"t":48,"v":2.7},{"t":48.5,"v":2.1},{"t":49,"v":1.8},{"t":49.5,"v":3.7},{"t":50,"v":2.2},{"t":50.5,"v":1.7},{"t":51,"v":1.6},{"t":51.5,"v":4.5},{"t":52,"v":2.5},{"t":52.5,"v":1.9},{"t":53,"v":1.9},{"t":53.5,"v":2.8},{"t":54,"v":2.9},{"t":54.2,"v":4.1},{"t":54.5,"v":1.6},{"t":55,"v":1.7},{"t":55.5,"v":2.5},{"t":55.6,"v":7.0},{"t":56,"v":2.4},{"t":56.5,"v":1.8},{"t":57,"v":1.8},{"t":57.5,"v":2.3},{"t":58,"v":2.6},{"t":58.5,"v":3.8},{"t":59,"v":1.6},{"t":59.5,"v":3.0},{"t":60,"v":2.3},{"t":60.5,"v":2.0},{"t":61,"v":1.9},{"t":61.5,"v":4.3},{"t":62,"v":2.7},{"t":62.5,"v":1.7},{"t":63,"v":1.7},{"t":63.5,"v":2.3},{"t":64,"v":2.2},{"t":64.5,"v":3.6},{"t":65,"v":1.8},{"t":65.5,"v":2.9},{"t":66,"v":2.5},{"t":66.5,"v":1.6},{"t":67,"v":1.6},{"t":67.5,"v":4.2},{"t":68,"v":2.8},{"t":68.5,"v":2.1},{"t":69,"v":1.9},{"t":69.5,"v":2.6},{"t":70,"v":2.4},{"t":70.5,"v":3.9},{"t":71,"v":1.7},{"t":71.5,"v":2.2},{"t":72,"v":2.6},{"t":72.5,"v":1.9},{"t":73,"v":1.8},{"t":73.5,"v":4.6},{"t":74,"v":2.3},{"t":74.5,"v":1.6},{"t":75,"v":1.6},{"t":75.5,"v":2.5},{"t":76,"v":2.7},{"t":76.5,"v":3.7},{"t":77,"v":1.9},{"t":77.5,"v":2.3},{"t":78,"v":2.2},{"t":78.5,"v":2.0},{"t":79,"v":1.7},{"t":79.5,"v":4.1},{"t":80,"v":2.5},{"t":80.5,"v":2.0},{"t":81,"v":1.8},{"t":81.5,"v":2.7},{"t":82,"v":2.8},{"t":82.5,"v":3.8},{"t":83,"v":1.6},{"t":83.5,"v":2.3},{"t":84,"v":2.4},{"t":84.5,"v":1.8},{"t":85,"v":1.9},{"t":85.5,"v":4.4},{"t":86,"v":2.6},{"t":86.5,"v":1.6},{"t":87,"v":1.7},{"t":87.5,"v":2.4},{"t":88,"v":2.3},{"t":88.5,"v":5.0},{"t":89,"v":1.8},{"t":89.5,"v":2.6},{"t":89.6,"v":5.7},{"t":90,"v":2.7},{"t":90.5,"v":5.6},{"t":91,"v":1.6},{"t":91.5,"v":2.2},{"t":92,"v":2.5},{"t":92.5,"v":1.9},{"t":93,"v":1.9},{"t":93.5,"v":4.0},{"t":94,"v":2.2},{"t":94.5,"v":1.6},{"t":95,"v":1.7},{"t":95.5,"v":3.7},{"t":96,"v":2.6},{"t":96.5,"v":1.8},{"t":97,"v":1.8},{"t":97.5,"v":4.5},{"t":98,"v":2.4},{"t":98.5,"v":2.0},{"t":99,"v":1.6},{"t":99.2,"v":5.3},{"t":99.5,"v":3.0},{"t":100,"v":2.8},{"t":100.5,"v":2.0},{"t":101,"v":1.9},{"t":101.5,"v":4.2},{"t":102,"v":2.3},{"t":102.5,"v":1.7},{"t":103,"v":1.7}],
"b2b": [{"t":0,"v":2.3},{"t":0.5,"v":2.0},{"t":1,"v":1.7},{"t":1.5,"v":2.7},{"t":2,"v":2.6},{"t":2.5,"v":3.6},{"t":3,"v":1.8},{"t":3.5,"v":2.3},{"t":4,"v":2.4},{"t":4.5,"v":1.8},{"t":5,"v":1.6},{"t":5.5,"v":2.9},{"t":6,"v":2.7},{"t":6.5,"v":4.2},{"t":7,"v":1.9},{"t":7.5,"v":2.4},{"t":8,"v":2.2},{"t":8.3,"v":5.3},{"t":8.5,"v":2.1},{"t":9,"v":1.7},{"t":9.5,"v":2.6},{"t":10,"v":2.5},{"t":10.5,"v":1.7},{"t":11,"v":1.8},{"t":11.5,"v":2.2},{"t":12,"v":2.8},{"t":12.5,"v":3.7},{"t":13,"v":1.6},{"t":13.5,"v":2.8},{"t":14,"v":2.3},{"t":14.5,"v":1.6},{"t":15,"v":1.9},{"t":15.5,"v":2.5},{"t":16,"v":2.6},{"t":16.5,"v":4.0},{"t":17,"v":1.7},{"t":17.5,"v":2.3},{"t":18,"v":2.4},{"t":18.5,"v":2.0},{"t":19,"v":1.8},{"t":19.5,"v":3.0},{"t":20,"v":2.2},{"t":20.5,"v":3.5},{"t":21,"v":1.6},{"t":21.5,"v":2.7},{"t":22,"v":2.7},{"t":22.3,"v":4.8},{"t":22.5,"v":1.7},{"t":23,"v":1.9},{"t":23.5,"v":2.3},{"t":24,"v":2.5},{"t":24.5,"v":1.8},{"t":25,"v":1.7},{"t":25.5,"v":2.9},{"t":26,"v":2.3},{"t":26.5,"v":1.6},{"t":27,"v":1.8},{"t":27.5,"v":3.9},{"t":28,"v":2.6},{"t":28.5,"v":2.1},{"t":29,"v":1.6},{"t":29.5,"v":2.6},{"t":30,"v":2.4},{"t":30.5,"v":4.1},{"t":31,"v":1.9},{"t":31.5,"v":2.2},{"t":32,"v":2.8},{"t":32.5,"v":1.9},{"t":33,"v":1.7},{"t":33.5,"v":2.8},{"t":34,"v":2.2},{"t":34.5,"v":3.6},{"t":35,"v":1.8},{"t":35.5,"v":2.5},{"t":36,"v":2.5},{"t":36.5,"v":1.8},{"t":37,"v":1.7},{"t":37.5,"v":1.9},{"t":38,"v":5.9},{"t":38.5,"v":7.0},{"t":39,"v":6.7},{"t":39.5,"v":7.0},{"t":40,"v":5.2},{"t":40.5,"v":5.8},{"t":41,"v":6.4},{"t":41.5,"v":6.9},{"t":42,"v":5.5},{"t":42.5,"v":5.0},{"t":43,"v":6.9},{"t":43.5,"v":6.2},{"t":44,"v":4.9},{"t":44.3,"v":4.3},{"t":44.5,"v":5.4},{"t":45,"v":6.2},{"t":45.5,"v":6.7},{"t":46,"v":5.6},{"t":46.5,"v":4.9},{"t":47,"v":6.6},{"t":47.5,"v":6.0},{"t":48,"v":5.1},{"t":48.3,"v":8.0},{"t":48.5,"v":5.6},{"t":49,"v":6.3},{"t":49.5,"v":7.0},{"t":50,"v":5.4},{"t":50.5,"v":5.1},{"t":51,"v":6.8},{"t":51.5,"v":6.4},{"t":52,"v":4.8},{"t":52.3,"v":8.2},{"t":52.5,"v":5.3},{"t":53,"v":6.1},{"t":53.5,"v":6.8},{"t":54,"v":5.7},{"t":54.5,"v":5.7},{"t":55,"v":6.5},{"t":55.5,"v":6.1},{"t":55.6,"v":11.3},{"t":56,"v":5.0},{"t":56.5,"v":4.8},{"t":57,"v":6.7},{"t":57.4,"v":7.7},{"t":57.5,"v":6.5},{"t":58,"v":5.3},{"t":58.5,"v":5.5},{"t":59,"v":6.2},{"t":59.5,"v":6.3},{"t":60,"v":4.9},{"t":60.5,"v":5.8},{"t":61,"v":6.9},{"t":61.5,"v":6.9},{"t":62,"v":5.5},{"t":62.5,"v":5.0},{"t":63,"v":6.3},{"t":63.5,"v":7.3},{"t":64,"v":5.1},{"t":64.5,"v":5.4},{"t":65,"v":6.6},{"t":65.5,"v":6.7},{"t":66,"v":4.7},{"t":66.5,"v":4.2},{"t":67,"v":6.4},{"t":67.5,"v":6.0},{"t":68,"v":5.6},{"t":68.5,"v":5.6},{"t":69,"v":6.0},{"t":69.5,"v":7.0},{"t":70,"v":5.2},{"t":70.5,"v":5.1},{"t":71,"v":7.8},{"t":71.5,"v":6.4},{"t":72,"v":5.4},{"t":72.5,"v":5.3},{"t":73,"v":6.1},{"t":73.5,"v":6.8},{"t":74,"v":4.8},{"t":74.5,"v":4.3},{"t":75,"v":6.5},{"t":75.5,"v":6.1},{"t":76,"v":5.3},{"t":76.5,"v":4.8},{"t":77,"v":6.7},{"t":77.5,"v":6.5},{"t":78,"v":5.0},{"t":78.5,"v":5.5},{"t":79,"v":8.0},{"t":79.5,"v":6.3},{"t":80,"v":5.5},{"t":80.5,"v":5.8},{"t":81,"v":6.6},{"t":81.5,"v":6.9},{"t":82,"v":4.9},{"t":82.5,"v":5.0},{"t":82.6,"v":4.1},{"t":83,"v":6.2},{"t":83.5,"v":6.2},{"t":84,"v":5.2},{"t":84.5,"v":5.4},{"t":85,"v":6.8},{"t":85.5,"v":6.7},{"t":86,"v":4.8},{"t":86.5,"v":8.1},{"t":87,"v":6.4},{"t":87.5,"v":6.0},{"t":88,"v":5.6},{"t":88.5,"v":5.6},{"t":89,"v":6.0},{"t":89.5,"v":7.2},{"t":90,"v":5.1},{"t":90.5,"v":5.1},{"t":91,"v":6.5},{"t":91.5,"v":6.4},{"t":92,"v":4.7},{"t":92.5,"v":4.3},{"t":93,"v":6.9},{"t":93.5,"v":6.8},{"t":94,"v":5.3},{"t":94.5,"v":5.7},{"t":95,"v":6.2},{"t":95.5,"v":7.3},{"t":96,"v":5.0},{"t":96.5,"v":4.8},{"t":97,"v":6.6},{"t":97.5,"v":6.5},{"t":98,"v":5.4},{"t":98.5,"v":5.5},{"t":99,"v":6.1},{"t":99.5,"v":4.2},{"t":100,"v":4.9},{"t":100.5,"v":5.8},{"t":101,"v":6.7},{"t":101.5,"v":6.9},{"t":102,"v":5.2},{"t":102.5,"v":5.0},{"t":103,"v":6.4}]
},
"vconcat": [
 {"hconcat": [
  {"width": 413, "height": 254,
   "layer": [
    {"data": {"name": "a1b"}, "mark": {"type": "line", "strokeWidth": 2.3, "strokeJoin": "bevel"},
     "encoding": {
      "x": {"field": "t", "type": "quantitative", "scale": {"domain": [0, 105], "nice": false, "zero": false},
            "axis": {"orient": "bottom", "values": [0,10,20,30,40,50,60,70,80,90,100], "tickSize": {"condition": {"test": "datum.value % 20 === 0", "value": -12}, "value": -6}, "labels": false, "title": null}},
      "y": {"field": "v", "type": "quantitative", "scale": {"domain": [0, 13], "nice": false, "zero": false},
            "axis": {"orient": "left", "values": [0,1.5,3,4.5,6,7.5,9,10.5,12], "format": "d", "tickSize": {"condition": {"test": "datum.value % 3 === 0", "value": 12}, "value": 6}, "labelExpr": "datum.value % 3 === 0 ? datum.label : ''", "labelFontSize": 28, "labelPadding": 10, "title": "Distance (Å)", "titleFontSize": 35, "titlePadding": 32}},
      "color": {"datum": "OD1 — HD21’/HD22’", "type": "nominal", "title": null,
                "scale": {"domain": ["OD1 — HD21’/HD22’", "OD1’— HD21/HD22"], "range": ["#0000ff", "#000000"]},
                "legend": {"orient": "none", "legendX": 166, "legendY": -70, "direction": "horizontal", "title": null}}
     }},
    {"data": {"name": "a1k"}, "mark": {"type": "line", "strokeWidth": 2.3, "strokeJoin": "bevel"},
     "encoding": {
      "x": {"field": "t", "type": "quantitative", "scale": {"domain": [0, 105], "nice": false, "zero": false},
            "axis": {"orient": "top", "values": [0,10,20,30,40,50,60,70,80,90,100], "tickSize": {"condition": {"test": "datum.value % 20 === 0", "value": -12}, "value": -6}, "labels": false, "title": null}},
      "y": {"field": "v", "type": "quantitative", "scale": {"domain": [0, 13], "nice": false, "zero": false},
            "axis": {"orient": "right", "values": [0,1.5,3,4.5,6,7.5,9,10.5,12], "tickSize": {"condition": {"test": "datum.value % 3 === 0", "value": -12}, "value": -6}, "labels": false, "title": null}},
      "color": {"datum": "OD1’— HD21/HD22", "type": "nominal", "title": null,
                "scale": {"domain": ["OD1 — HD21’/HD22’", "OD1’— HD21/HD22"], "range": ["#0000ff", "#000000"]},
                "legend": {"orient": "none", "legendX": 166, "legendY": -70, "direction": "horizontal", "title": null}}
     }},
    {"data": {"values": [{"label": "hHᵥ1-CTD pH 7 308 K"}]},
     "mark": {"type": "text", "font": "Lato", "fontWeight": "bold", "fontSize": 20, "color": "black", "baseline": "middle"},
     "encoding": {
      "x": {"datum": 52.5, "type": "quantitative", "scale": {"domain": [0, 105], "nice": false, "zero": false}, "axis": null},
      "y": {"datum": 11.45, "type": "quantitative", "scale": {"domain": [0, 13], "nice": false, "zero": false}, "axis": null},
      "text": {"field": "label"}
     }}
   ],
   "resolve": {"axis": {"x": "independent", "y": "independent"}}
  },
  {"width": 413, "height": 254,
   "layer": [
    {"data": {"name": "a2b"}, "mark": {"type": "line", "strokeWidth": 2.3, "strokeJoin": "bevel"},
     "encoding": {
      "x": {"field": "t", "type": "quantitative", "scale": {"domain": [0, 105], "nice": false, "zero": false},
            "axis": {"orient": "bottom", "values": [0,10,20,30,40,50,60,70,80,90,100], "tickSize": {"condition": {"test": "datum.value % 20 === 0", "value": -12}, "value": -6}, "labels": false, "title": null}},
      "y": {"field": "v", "type": "quantitative", "scale": {"domain": [0, 13], "nice": false, "zero": false},
            "axis": {"orient": "left", "values": [0,1.5,3,4.5,6,7.5,9,10.5,12], "tickSize": {"condition": {"test": "datum.value % 3 === 0", "value": -12}, "value": -6}, "labels": false, "title": null}},
      "color": {"datum": "OD1 — HD21’/HD22’", "type": "nominal", "title": null,
                "scale": {"domain": ["OD1 — HD21’/HD22’", "OD1’— HD21/HD22"], "range": ["#0000ff", "#000000"]},
                "legend": {"orient": "none", "legendX": 166, "legendY": -70, "direction": "horizontal", "title": null}}
     }},
    {"data": {"name": "a2k"}, "mark": {"type": "line", "strokeWidth": 2.3, "strokeJoin": "bevel"},
     "encoding": {
      "x": {"field": "t", "type": "quantitative", "scale": {"domain": [0, 105], "nice": false, "zero": false},
            "axis": {"orient": "top", "values": [0,10,20,30,40,50,60,70,80,90,100], "tickSize": {"condition": {"test": "datum.value % 20 === 0", "value": -12}, "value": -6}, "labels": false, "title": null}},
      "y": {"field": "v", "type": "quantitative", "scale": {"domain": [0, 13], "nice": false, "zero": false},
            "axis": {"orient": "right", "values": [0,1.5,3,4.5,6,7.5,9,10.5,12], "tickSize": {"condition": {"test": "datum.value % 3 === 0", "value": -12}, "value": -6}, "labels": false, "title": null}},
      "color": {"datum": "OD1’— HD21/HD22", "type": "nominal", "title": null,
                "scale": {"domain": ["OD1 — HD21’/HD22’", "OD1’— HD21/HD22"], "range": ["#0000ff", "#000000"]},
                "legend": {"orient": "none", "legendX": 166, "legendY": -70, "direction": "horizontal", "title": null}}
     }},
    {"data": {"values": [{"label": "hHᵥ1-CTD pH 7 323 K"}]},
     "mark": {"type": "text", "font": "Lato", "fontWeight": "bold", "fontSize": 20, "color": "black", "baseline": "middle"},
     "encoding": {
      "x": {"datum": 52.5, "type": "quantitative", "scale": {"domain": [0, 105], "nice": false, "zero": false}, "axis": null},
      "y": {"datum": 11.45, "type": "quantitative", "scale": {"domain": [0, 13], "nice": false, "zero": false}, "axis": null},
      "text": {"field": "label"}
     }}
   ],
   "resolve": {"axis": {"x": "independent", "y": "independent"}}
  }
 ], "spacing": 49, "resolve": {"scale": {"color": "shared"}, "legend": {"color": "shared"}}},
 {"hconcat": [
  {"width": 413, "height": 254,
   "layer": [
    {"data": {"name": "b1b"}, "mark": {"type": "line", "strokeWidth": 2.3, "strokeJoin": "bevel"},
     "encoding": {
      "x": {"field": "t", "type": "quantitative", "scale": {"domain": [0, 105], "nice": false, "zero": false},
            "axis": {"orient": "bottom", "values": [0,10,20,30,40,50,60,70,80,90,100], "format": "d", "tickSize": {"condition": {"test": "datum.value % 20 === 0", "value": 12}, "value": 6}, "labelExpr": "datum.value % 20 === 0 ? datum.label : ''", "labelFontSize": 32, "labelPadding": 8, "title": "Time (ns)", "titleFontSize": 35, "titlePadding": 12}},
      "y": {"field": "v", "type": "quantitative", "scale": {"domain": [0, 13], "nice": false, "zero": false},
            "axis": {"orient": "left", "values": [0,1.5,3,4.5,6,7.5,9,10.5,12], "format": "d", "tickSize": {"condition": {"test": "datum.value % 3 === 0", "value": 12}, "value": 6}, "labelExpr": "datum.value % 3 === 0 ? datum.label : ''", "labelFontSize": 28, "labelPadding": 10, "title": "Distance (Å)", "titleFontSize": 35, "titlePadding": 32}},
      "color": {"datum": "OD1 — HD21’/HD22’", "type": "nominal", "title": null,
                "scale": {"domain": ["OD1 — HD21’/HD22’", "OD1’— HD21/HD22"], "range": ["#0000ff", "#000000"]},
                "legend": {"orient": "none", "legendX": 166, "legendY": -70, "direction": "horizontal", "title": null}}
     }},
    {"data": {"name": "b1k"}, "mark": {"type": "line", "strokeWidth": 2.3, "strokeJoin": "bevel"},
     "encoding": {
      "x": {"field": "t", "type": "quantitative", "scale": {"domain": [0, 105], "nice": false, "zero": false},
            "axis": {"orient": "top", "values": [0,10,20,30,40,50,60,70,80,90,100], "tickSize": {"condition": {"test": "datum.value % 20 === 0", "value": -12}, "value": -6}, "labels": false, "title": null}},
      "y": {"field": "v", "type": "quantitative", "scale": {"domain": [0, 13], "nice": false, "zero": false},
            "axis": {"orient": "right", "values": [0,1.5,3,4.5,6,7.5,9,10.5,12], "tickSize": {"condition": {"test": "datum.value % 3 === 0", "value": -12}, "value": -6}, "labels": false, "title": null}},
      "color": {"datum": "OD1’— HD21/HD22", "type": "nominal", "title": null,
                "scale": {"domain": ["OD1 — HD21’/HD22’", "OD1’— HD21/HD22"], "range": ["#0000ff", "#000000"]},
                "legend": {"orient": "none", "legendX": 166, "legendY": -70, "direction": "horizontal", "title": null}}
     }},
    {"data": {"values": [{"label": "hHᵥ1-CTD pH 4 308 K"}]},
     "mark": {"type": "text", "font": "Lato", "fontWeight": "bold", "fontSize": 20, "color": "black", "baseline": "middle"},
     "encoding": {
      "x": {"datum": 52.5, "type": "quantitative", "scale": {"domain": [0, 105], "nice": false, "zero": false}, "axis": null},
      "y": {"datum": 11.3, "type": "quantitative", "scale": {"domain": [0, 13], "nice": false, "zero": false}, "axis": null},
      "text": {"field": "label"}
     }}
   ],
   "resolve": {"axis": {"x": "independent", "y": "independent"}}
  },
  {"width": 413, "height": 254,
   "layer": [
    {"data": {"name": "b2b"}, "mark": {"type": "line", "strokeWidth": 2.3, "strokeJoin": "bevel"},
     "encoding": {
      "x": {"field": "t", "type": "quantitative", "scale": {"domain": [0, 105], "nice": false, "zero": false},
            "axis": {"orient": "bottom", "values": [0,10,20,30,40,50,60,70,80,90,100], "format": "d", "tickSize": {"condition": {"test": "datum.value % 20 === 0", "value": 12}, "value": 6}, "labelExpr": "datum.value % 20 === 0 ? datum.label : ''", "labelFontSize": 32, "labelPadding": 8, "title": "Time (ns)", "titleFontSize": 35, "titlePadding": 12}},
      "y": {"field": "v", "type": "quantitative", "scale": {"domain": [0, 13], "nice": false, "zero": false},
            "axis": {"orient": "left", "values": [0,1.5,3,4.5,6,7.5,9,10.5,12], "tickSize": {"condition": {"test": "datum.value % 3 === 0", "value": -12}, "value": -6}, "labels": false, "title": null}},
      "color": {"datum": "OD1 — HD21’/HD22’", "type": "nominal", "title": null,
                "scale": {"domain": ["OD1 — HD21’/HD22’", "OD1’— HD21/HD22"], "range": ["#0000ff", "#000000"]},
                "legend": {"orient": "none", "legendX": 166, "legendY": -70, "direction": "horizontal", "title": null}}
     }},
    {"data": {"name": "b2k"}, "mark": {"type": "line", "strokeWidth": 2.3, "strokeJoin": "bevel"},
     "encoding": {
      "x": {"field": "t", "type": "quantitative", "scale": {"domain": [0, 105], "nice": false, "zero": false},
            "axis": {"orient": "top", "values": [0,10,20,30,40,50,60,70,80,90,100], "tickSize": {"condition": {"test": "datum.value % 20 === 0", "value": -12}, "value": -6}, "labels": false, "title": null}},
      "y": {"field": "v", "type": "quantitative", "scale": {"domain": [0, 13], "nice": false, "zero": false},
            "axis": {"orient": "right", "values": [0,1.5,3,4.5,6,7.5,9,10.5,12], "tickSize": {"condition": {"test": "datum.value % 3 === 0", "value": -12}, "value": -6}, "labels": false, "title": null}},
      "color": {"datum": "OD1’— HD21/HD22", "type": "nominal", "title": null,
                "scale": {"domain": ["OD1 — HD21’/HD22’", "OD1’— HD21/HD22"], "range": ["#0000ff", "#000000"]},
                "legend": {"orient": "none", "legendX": 166, "legendY": -70, "direction": "horizontal", "title": null}}
     }},
    {"data": {"values": [{"label": "hHᵥ1-CTD pH 4 323 K"}]},
     "mark": {"type": "text", "font": "Lato", "fontWeight": "bold", "fontSize": 20, "color": "black", "baseline": "middle"},
     "encoding": {
      "x": {"datum": 52.5, "type": "quantitative", "scale": {"domain": [0, 105], "nice": false, "zero": false}, "axis": null},
      "y": {"datum": 11.3, "type": "quantitative", "scale": {"domain": [0, 13], "nice": false, "zero": false}, "axis": null},
      "text": {"field": "label"}
     }}
   ],
   "resolve": {"axis": {"x": "independent", "y": "independent"}}
  }
 ], "spacing": 34, "resolve": {"scale": {"color": "shared"}, "legend": {"color": "shared"}}}
],
"spacing": 35,
"resolve": {"scale": {"color": "shared"}, "legend": {"color": "shared"}},
"config": {
 "view": {"stroke": "black", "strokeWidth": 2},
 "axis": {"domain": false, "grid": false, "tickColor": "black", "tickWidth": 2, "labelColor": "black", "titleColor": "black", "labelFont": "Liberation Sans", "titleFont": "Liberation Sans", "titleFontWeight": "normal", "labelOverlap": false, "labelFlush": false},
 "legend": {"symbolType": "stroke", "symbolStrokeWidth": 5, "symbolSize": 900, "labelFont": "Lato", "labelFontWeight": "bold", "labelFontSize": 20, "labelColor": "black", "columnPadding": 22, "labelOffset": 8, "padding": 0, "labelLimit": 400}
}
}
